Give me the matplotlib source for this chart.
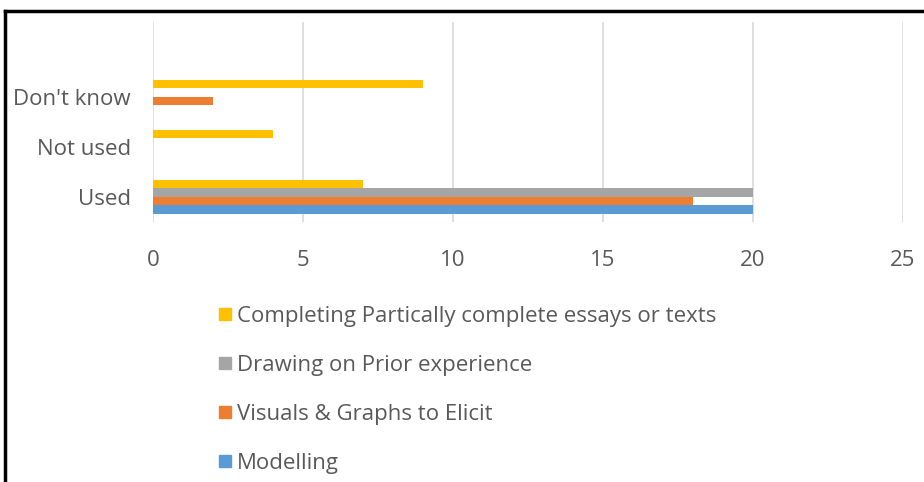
import numpy as np
import matplotlib
matplotlib.use('Agg')
import matplotlib.pyplot as plt
from matplotlib.lines import Line2D

# Data
categories = ["Used", "Not used", "Don't know", ""]
series_names = ["Modelling", "Visuals & Graphs to Elicit",
                "Drawing on Prior experience",
                "Completing Partically complete essays or texts"]
modelling = [20, 0, 0, 0]
visuals = [18, 0, 2, 0]
drawing = [20, 0, 0, 0]
completing = [7, 4, 9, 0]
colors = ["#5b9bd5", "#ed7d31", "#a5a5a5", "#ffc000"]

plt.rcParams['font.family'] = ['Open Sans', 'DejaVu Sans']
text_color = "#595959"

W, H = 924, 482
fig = plt.figure(figsize=(W / 100, H / 100), dpi=100)
ax = fig.add_axes([153 / W, 1 - 222 / H, 750 / W, 200 / H])

y = np.arange(len(categories))
bar_h = 0.17
offsets = [-1.5, -0.5, 0.5, 1.5]
for vals, name, col, off in zip([modelling, visuals, drawing, completing],
                                series_names, colors, offsets):
    ax.barh(y + off * bar_h, vals, height=bar_h, color=col, label=name, zorder=3)

ax.set_xlim(0, 25)
ax.set_ylim(-0.5, 3.5)
ax.set_xticks(range(0, 26, 5))
ax.set_yticks(y)
ax.set_yticklabels(categories)
ax.grid(axis='x', color="#d9d9d9", linewidth=1.2, zorder=0)
for s in ax.spines.values():
    s.set_visible(False)
ax.tick_params(axis='both', length=0, labelsize=16, colors=text_color)
ax.tick_params(axis='x', pad=20)
ax.tick_params(axis='y', pad=16)

# legend, drawn top to bottom in reverse series order
handles = [Line2D([], [], marker='s', linestyle='none', markersize=8,
                  color=c) for c in colors[::-1]]
fig.legend(handles, series_names[::-1], loc='upper left',
           bbox_to_anchor=(205 / W, 1 - 297 / H), frameon=False,
           fontsize=16, labelcolor=text_color, labelspacing=1.26,
           handletextpad=0.05, handlelength=1.0, borderaxespad=0)

# black border on top and left, as in the cropped screenshot
fig.add_artist(Line2D([4.5 / W, 4.5 / W], [0, 1 - 10.5 / H], color='black',
                      linewidth=2.5, transform=fig.transFigure))
fig.add_artist(Line2D([4.5 / W, 1], [1 - 10.5 / H, 1 - 10.5 / H], color='black',
                      linewidth=2.5, transform=fig.transFigure))

fig.savefig("out.png", dpi=100, facecolor='white')
